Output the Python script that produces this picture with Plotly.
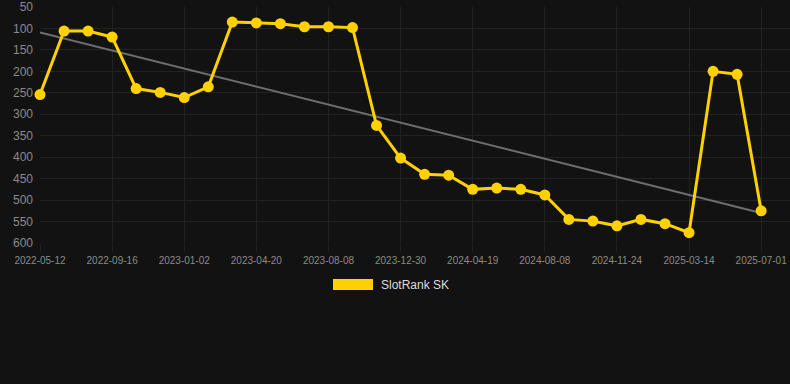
import numpy as np
import plotly.graph_objects as go

dates = [
    "2022-05-12", "2022-06-24", "2022-08-05", "2022-09-16", "2022-10-22", "2022-11-27",
    "2023-01-02", "2023-02-07", "2023-03-15", "2023-04-20", "2023-05-27", "2023-07-03",
    "2023-08-08", "2023-09-25", "2023-11-12", "2023-12-30", "2024-02-05", "2024-03-13",
    "2024-04-19", "2024-05-26", "2024-07-02", "2024-08-08", "2024-09-13", "2024-10-19",
    "2024-11-24", "2024-12-31", "2025-02-06", "2025-03-14", "2025-04-19", "2025-05-25",
    "2025-07-01",
]
ranks = [
    254, 106, 106, 120, 240, 249, 261, 236, 85, 87, 89, 96, 96, 98,
    326, 402, 440, 442, 475, 472, 475, 488, 545, 549, 560, 545, 555, 576,
    200, 207, 525,
]
tick_dates = dates[::3]
y_ticks = [50, 100, 150, 200, 250, 300, 350, 400, 450, 500, 550, 600]
series_name = "SlotRank SK"

idx = np.arange(len(ranks))
slope, intercept = np.polyfit(idx, ranks, 1)
trend = slope * idx + intercept

gold = "#FFD100"
fig = go.Figure()
fig.add_trace(go.Scatter(
    x=dates, y=trend, mode="lines",
    line=dict(color="#6e6e6e", width=2), showlegend=False, hoverinfo="skip",
    cliponaxis=False,
))
fig.add_trace(go.Scatter(
    x=dates, y=ranks, mode="lines+markers", name=series_name,
    line=dict(color=gold, width=3), marker=dict(color=gold, size=11),
    showlegend=False, cliponaxis=False,
))

grid = "#222222"
fig.update_layout(
    width=790, height=384,
    margin=dict(l=40, r=0, t=7, b=141),
    paper_bgcolor="#121212", plot_bgcolor="#121212",
    font=dict(family="Liberation Sans, Arial, sans-serif", color="#8a8a8a"),
    showlegend=False,
    xaxis=dict(
        type="category", categoryorder="array", categoryarray=dates,
        range=[0, 31.2], tickmode="array", tickvals=tick_dates, ticktext=tick_dates,
        showgrid=True, gridcolor=grid, gridwidth=1, zeroline=False,
        ticks="outside", ticklen=8, tickcolor=grid, showline=False,
        tickfont=dict(size=10, color="#8a8a8a"),
    ),
    yaxis=dict(
        range=[600, 50], tickmode="array", tickvals=y_ticks,
        showgrid=True, gridcolor=grid, gridwidth=1, zeroline=False,
        ticks="", ticklabelstandoff=6, showline=False,
        tickfont=dict(size=12, color="#8a8a8a"),
    ),
    shapes=[dict(
        type="rect", xref="paper", yref="paper",
        x0=(333 - 40) / 750, x1=(373 - 40) / 750,
        y0=(384 - 141 - 290) / 236, y1=(384 - 141 - 279) / 236,
        fillcolor=gold, line=dict(width=0),
    )],
    annotations=[dict(
        text=series_name, xref="paper", yref="paper",
        x=(379 - 40) / 750, y=(384 - 141 - 284.5) / 236,
        xanchor="left", yanchor="middle", showarrow=False,
        font=dict(size=12, color="#dddddd"),
    )],
)

fig.write_html("out.html")
